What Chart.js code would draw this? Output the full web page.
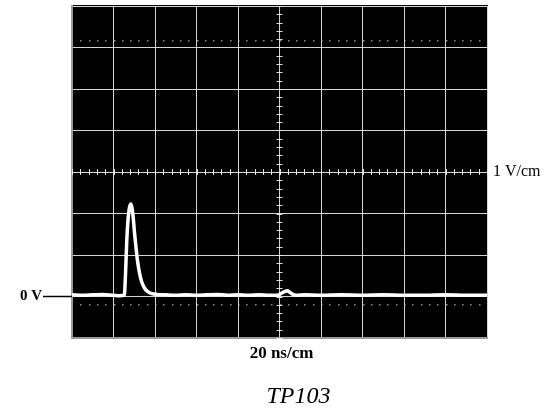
<!DOCTYPE html>
<html>
<head>
<meta charset="utf-8">
<script src="https://cdn.jsdelivr.net/npm/chart.js@4/dist/chart.umd.min.js"></script>
<style>
html,body{margin:0;padding:0;background:#fff;}
#wrap{width:552px;height:415px;}
</style>
</head>
<body>
<div id="wrap"><canvas id="c" width="552" height="415"></canvas></div>
<script>
// Time in ns (20 ns per division), voltage in V (1 V per division)
const timeNs = [0, 5, 10, 15, 20, 23, 25.2, 25.8, 26.4, 27.0, 27.6, 28.3, 28.9, 29.5, 30.1, 30.8, 31.6, 32.6, 33.6, 35.0, 36.5, 38.5, 41, 45, 50, 55, 60, 65, 70, 75, 80, 85, 90, 95, 99, 101, 102.5, 103.8, 105, 106.5, 108, 112, 120, 130, 140, 150, 160, 170, 180, 190, 200];
const volts  = [0.04, 0.03, 0.04, 0.05, 0.03, 0.02, 0.03, 0.55, 1.35, 1.85, 2.12, 2.23, 2.14, 1.9, 1.55, 1.2, 0.85, 0.55, 0.35, 0.2, 0.12, 0.07, 0.05, 0.04, 0.03, 0.04, 0.03, 0.04, 0.05, 0.03, 0.04, 0.03, 0.04, 0.03, 0.03, 0.08, 0.12, 0.14, 0.1, 0.05, 0.03, 0.04, 0.03, 0.04, 0.03, 0.04, 0.03, 0.03, 0.04, 0.03, 0.03];
const xRange = [0, 200];   // ns, 10 divisions
const yRange = [-1, 7];    // V, 8 divisions
const xStep = 20;
const yStep = 1;
const zeroLabel = "0 V";
const voltsLabel = "1 V/cm";
const timeLabel = "20 ns/cm";
const traceTitle = "TP103";

const points = timeNs.map((t, i) => ({x: t, y: volts[i]}));

const scopePlugin = {
  id: 'scope',
  beforeDraw(chart) {
    const {ctx, chartArea: a} = chart;
    ctx.save();
    ctx.fillStyle = '#000';
    ctx.fillRect(a.left - 1, a.top - 1, a.right - a.left + 2, a.bottom - a.top + 2);
    ctx.restore();
  },
  beforeDatasetsDraw(chart) {
    const {ctx, scales: {x, y}} = chart;
    const xc = x.getPixelForValue((xRange[0] + xRange[1]) / 2);
    const yc = y.getPixelForValue((yRange[0] + yRange[1]) / 2);
    ctx.save();
    ctx.strokeStyle = 'rgba(235,235,235,0.95)';
    ctx.lineWidth = 1;
    ctx.beginPath();
    for (let v = yRange[0]; v <= yRange[1] + 1e-9; v += yStep / 5) {
      const py = Math.round(y.getPixelForValue(v)) + 0.5;
      ctx.moveTo(xc - 3, py); ctx.lineTo(xc + 3, py);
    }
    for (let t = xRange[0]; t <= xRange[1] + 1e-9; t += xStep / 5) {
      const px = Math.round(x.getPixelForValue(t)) + 0.5;
      ctx.moveTo(px, yc - 3); ctx.lineTo(px, yc + 3);
    }
    ctx.stroke();
    ctx.fillStyle = 'rgba(200,200,200,0.7)';
    [yRange[1] - 0.82, yRange[0] + 0.82].forEach(v => {
      const py = Math.round(y.getPixelForValue(v));
      for (let t = xRange[0] + xStep / 5; t < xRange[1]; t += xStep / 5) {
        const px = Math.round(x.getPixelForValue(t));
        ctx.fillRect(px, py, 1.5, 1.5);
      }
    });
    ctx.restore();
  },
  afterDraw(chart) {
    const {ctx, chartArea: a, scales: {x, y}} = chart;
    ctx.save();
    ctx.fillStyle = '#000';
    ctx.textBaseline = 'middle';
    const y0 = y.getPixelForValue(0);
    ctx.font = 'bold 15px "Liberation Serif"';
    ctx.textAlign = 'right';
    ctx.fillText(zeroLabel, 42, y0);
    ctx.strokeStyle = '#000';
    ctx.lineWidth = 1.5;
    ctx.beginPath();
    ctx.moveTo(43, y0); ctx.lineTo(a.left, y0);
    ctx.stroke();
    ctx.font = '16px "Liberation Serif"';
    ctx.textAlign = 'left';
    ctx.fillText(voltsLabel, a.right + 6, y.getPixelForValue((yRange[0] + yRange[1]) / 2));
    ctx.font = 'bold 17px "Liberation Serif"';
    ctx.textAlign = 'center';
    ctx.fillText(timeLabel, x.getPixelForValue((xRange[0] + xRange[1]) / 2) + 2, a.bottom + 16);
    ctx.font = 'italic 24px "Liberation Serif"';
    ctx.fillText(traceTitle, x.getPixelForValue((xRange[0] + xRange[1]) / 2) + 19, a.bottom + 59);
    ctx.restore();
  }
};

new Chart(document.getElementById('c'), {
  type: 'line',
  data: {
    datasets: [{
      data: points,
      borderColor: '#fff',
      borderWidth: 3.5,
      pointRadius: 0,
      cubicInterpolationMode: 'monotone',
      fill: false
    }]
  },
  options: {
    responsive: false,
    animation: false,
    events: [],
    layout: {padding: {left: 72, right: 65, top: 6, bottom: 77}},
    plugins: {legend: {display: false}, tooltip: {enabled: false}, title: {display: false}},
    scales: {
      x: {
        type: 'linear', min: xRange[0], max: xRange[1],
        ticks: {display: false, stepSize: xStep},
        grid: {color: 'rgba(235,235,235,0.9)', lineWidth: 1, drawTicks: false},
        border: {display: true, color: '#9a9a9a', width: 2}
      },
      y: {
        type: 'linear', min: yRange[0], max: yRange[1],
        ticks: {display: false, stepSize: yStep},
        grid: {color: 'rgba(235,235,235,0.9)', lineWidth: 1, drawTicks: false},
        border: {display: true, color: '#9a9a9a', width: 2}
      }
    }
  },
  plugins: [scopePlugin]
});
</script>
</body>
</html>
